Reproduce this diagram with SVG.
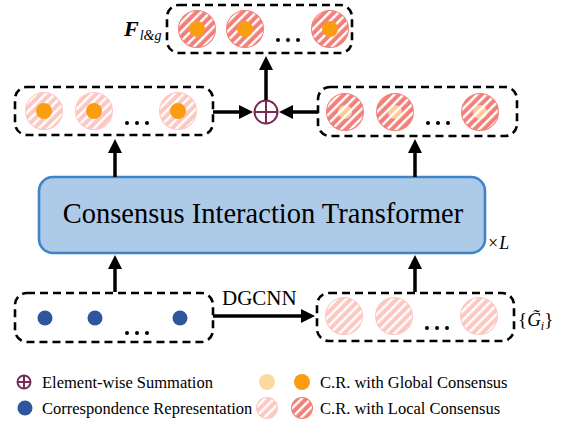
<svg xmlns="http://www.w3.org/2000/svg" width="566" height="424" viewBox="0 0 566 424">
<defs>
<style>
.dbox{fill:none;stroke:#000;stroke-width:2.6;stroke-dasharray:8 5;}
.arr{stroke:#000;stroke-width:3.5;fill:none;marker-end:url(#ah);}
.dark{fill:#f2807a;}
.light{fill:#fcc8c2;}
.darkr{stroke:#f2807a;stroke-width:2;}
.lightr{stroke:#fcc8c2;stroke-width:2;}
.hatch{fill:url(#stripes);}
.org{fill:#fb9d12;}
.lorg{fill:#fdd9a0;}
.blue{fill:#2f559d;}
.dot{fill:#000;}
.serif{font-family:"Liberation Serif","Times New Roman",serif;fill:#000;}
.plus{fill:none;stroke:#7a2a58;stroke-width:2;}
</style>
<pattern id="stripes" patternUnits="userSpaceOnUse" width="6.5" height="6.5" patternTransform="rotate(45)">
<rect x="0" y="0" width="2.4" height="6.5" fill="#fff"/>
</pattern>
<marker id="ah" viewBox="0 0 14 14" refX="4" refY="7" markerWidth="14" markerHeight="14" markerUnits="userSpaceOnUse" orient="auto">
<path d="M0,0 L14,7 L0,14 z" fill="#000"/>
</marker>
</defs>
<rect width="566" height="424" fill="#fff"/>

<g id="top-box">
<rect class="dbox" x="167" y="5" width="185" height="48" rx="12"/>
<circle class="dark darkr" cx="197" cy="29" r="18"/><circle class="hatch" cx="197" cy="29" r="18"/><circle class="org" cx="197" cy="29" r="8"/>
<circle class="dark darkr" cx="245" cy="29" r="18"/><circle class="hatch" cx="245" cy="29" r="18"/><circle class="org" cx="245" cy="29" r="8"/>
<circle class="dark darkr" cx="330" cy="29" r="18"/><circle class="hatch" cx="330" cy="29" r="18"/><circle class="org" cx="330" cy="29" r="8"/>
<circle class="dot" cx="278" cy="40" r="2"/><circle class="dot" cx="288" cy="40" r="2"/><circle class="dot" cx="298" cy="40" r="2"/>
<text class="serif" x="124" y="36" font-size="22" font-weight="bold" font-style="italic">F<tspan font-size="14" font-weight="normal" dy="4" dx="1">l&amp;g</tspan></text>
</g>

<g id="mid-left">
<rect class="dbox" x="15" y="87" width="198" height="48" rx="12"/>
<circle class="light lightr" cx="44" cy="111" r="18"/><circle class="hatch" cx="44" cy="111" r="18"/><circle class="org" cx="44" cy="111" r="8"/>
<circle class="light lightr" cx="94" cy="111" r="18"/><circle class="hatch" cx="94" cy="111" r="18"/><circle class="org" cx="94" cy="111" r="8"/>
<circle class="light lightr" cx="178" cy="111" r="18"/><circle class="hatch" cx="178" cy="111" r="18"/><circle class="org" cx="178" cy="111" r="8"/>
<circle class="dot" cx="127" cy="123" r="2"/><circle class="dot" cx="137" cy="123" r="2"/><circle class="dot" cx="147" cy="123" r="2"/>
</g>

<g id="mid-right">
<rect class="dbox" x="318" y="87" width="199" height="49" rx="12"/>
<circle class="dark darkr" cx="345" cy="112" r="18"/><circle class="lorg" cx="345" cy="112" r="7" opacity="0.85"/><circle class="hatch" cx="345" cy="112" r="18"/>
<circle class="dark darkr" cx="395" cy="112" r="18"/><circle class="lorg" cx="395" cy="112" r="7" opacity="0.85"/><circle class="hatch" cx="395" cy="112" r="18"/>
<circle class="dark darkr" cx="480" cy="112" r="18"/><circle class="lorg" cx="480" cy="112" r="7" opacity="0.85"/><circle class="hatch" cx="480" cy="112" r="18"/>
<circle class="dot" cx="428" cy="123" r="2"/><circle class="dot" cx="438" cy="123" r="2"/><circle class="dot" cx="448" cy="123" r="2"/>
</g>

<g id="sum">
<circle class="plus" cx="266" cy="112" r="11.5"/>
<path class="plus" d="M254.5,112 H277.5 M266,100.5 V123.5"/>
</g>

<g id="transformer">
<rect x="39" y="177" width="446" height="76" rx="14" fill="#adcbe9" stroke="#3f84c7" stroke-width="2.6"/>
<text class="serif" x="263" y="223" font-size="28.5" text-anchor="middle">Consensus Interaction Transformer</text>
<text class="serif" x="488" y="249" font-size="18">×<tspan font-style="italic" dx="1">L</tspan></text>
</g>

<g id="bottom-left">
<rect class="dbox" x="15" y="293" width="198" height="49" rx="12"/>
<circle class="blue" cx="45" cy="318" r="7.5"/>
<circle class="blue" cx="95" cy="318" r="7.5"/>
<circle class="blue" cx="180" cy="318" r="7.5"/>
<circle class="dot" cx="127" cy="333" r="2"/><circle class="dot" cx="137" cy="333" r="2"/><circle class="dot" cx="147" cy="333" r="2"/>
</g>

<g id="bottom-right">
<rect class="dbox" x="317" y="293" width="197" height="48" rx="12"/>
<circle class="light lightr" cx="344" cy="316" r="18"/><circle class="hatch" cx="344" cy="316" r="18"/>
<circle class="light lightr" cx="394" cy="316" r="18"/><circle class="hatch" cx="394" cy="316" r="18"/>
<circle class="light lightr" cx="479" cy="316" r="18"/><circle class="hatch" cx="479" cy="316" r="18"/>
<circle class="dot" cx="427" cy="328" r="2"/><circle class="dot" cx="437" cy="328" r="2"/><circle class="dot" cx="447" cy="328" r="2"/>
<text class="serif" x="518" y="326" font-size="19">{<tspan font-style="italic">G̃</tspan><tspan font-size="12" font-style="italic" dy="4">i</tspan><tspan dy="-4">}</tspan></text>
</g>

<g id="connectors">
<line class="arr" x1="213" y1="112" x2="243" y2="112"/>
<line class="arr" x1="318" y1="112" x2="289" y2="112"/>
<line class="arr" x1="266" y1="100" x2="266" y2="66"/>
<line class="arr" x1="115" y1="177" x2="115" y2="149"/>
<line class="arr" x1="415" y1="177" x2="415" y2="149"/>
<line class="arr" x1="115" y1="292" x2="115" y2="265"/>
<line class="arr" x1="415" y1="292" x2="415" y2="265"/>
<line class="arr" x1="213" y1="316" x2="305" y2="316"/>
<text class="serif" x="222" y="305" font-size="21">DGCNN</text>
</g>

<g id="legend">
<circle class="plus" cx="24" cy="382" r="6.5"/>
<path class="plus" d="M17.5,382 H30.5 M24,375.5 V388.5"/>
<text class="serif" x="42" y="388" font-size="16.5">Element-wise Summation</text>
<circle class="lorg" cx="267" cy="382" r="8"/>
<circle class="org" cx="302" cy="382" r="8"/>
<text class="serif" x="320" y="388" font-size="16.5">C.R. with Global Consensus</text>
<circle class="blue" cx="25" cy="408" r="7.5"/>
<text class="serif" x="42" y="414" font-size="16.5">Correspondence Representation</text>
<circle class="light lightr" cx="267" cy="408" r="10"/><circle class="hatch" cx="267" cy="408" r="10"/>
<circle class="dark darkr" cx="302" cy="408" r="10"/><circle class="hatch" cx="302" cy="408" r="10"/>
<text class="serif" x="320" y="414" font-size="16.5">C.R. with Local Consensus</text>
</g>
</svg>
